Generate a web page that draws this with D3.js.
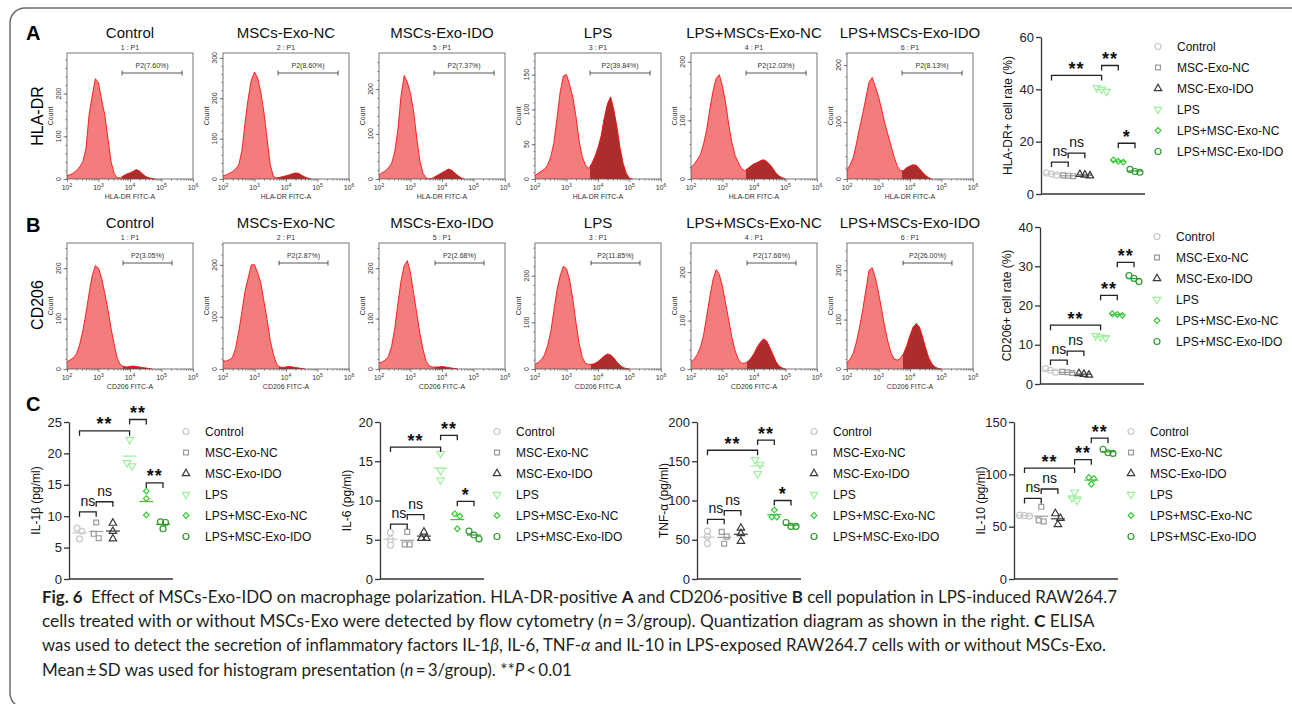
<!DOCTYPE html>
<html>
<head>
<meta charset="utf-8">
<script src="https://cdn.jsdelivr.net/npm/d3@7"></script>
<style>
  body { margin: 0; background: #fff; }
  svg { display: block; font-family: "Liberation Sans", Arial, sans-serif; }
</style>
</head>
<body>
<svg id="fig" width="1292" height="704"></svg>
<script>
// ---------- flow cytometry histograms ----------
const flowTitles = ['Control', 'MSCs-Exo-NC', 'MSCs-Exo-IDO', 'LPS', 'LPS+MSCs-Exo-NC', 'LPS+MSCs-Exo-IDO'];
const flowSampleIds = ['1 : P1', '2 : P1', '5 : P1', '3 : P1', '4 : P1', '6 : P1'];
// log10 of fluorescence for each histogram bin
const logBins = [2.0, 2.1, 2.2, 2.3, 2.4, 2.5, 2.6, 2.7, 2.8, 2.9, 3.0, 3.1, 3.2, 3.3, 3.4, 3.5, 3.6,
                 3.7, 3.8, 3.9, 4.0, 4.1, 4.2, 4.3, 4.4, 4.5, 4.6, 4.7, 4.8, 4.9, 5.0, 5.1, 5.2];

const hladrCounts = [
  [8, 10, 14, 20, 28, 40, 70, 150, 195, 235, 225, 185, 150, 95, 40, 12, 3, 3, 8, 12, 14, 18, 22, 19, 12, 6, 3, 1, 0, 0, 0, 0, 0],
  [8, 10, 14, 18, 25, 35, 70, 140, 200, 245, 265, 250, 215, 165, 100, 35, 6, 3, 4, 6, 8, 10, 13, 15, 14, 9, 5, 2, 0, 0, 0, 0, 0],
  [9, 14, 18, 25, 35, 60, 110, 185, 230, 215, 190, 150, 90, 40, 12, 2, 0, 2, 6, 10, 14, 18, 22, 20, 14, 8, 3, 0, 0, 0, 0, 0, 0],
  [5, 8, 11, 14, 20, 32, 52, 88, 125, 148, 150, 135, 118, 90, 55, 32, 20, 15, 22, 32, 45, 62, 88, 108, 118, 100, 75, 45, 22, 8, 1, 0, 0],
  [20, 25, 33, 42, 60, 85, 120, 150, 172, 178, 158, 130, 92, 62, 40, 28, 18, 14, 18, 22, 26, 28, 31, 33, 30, 25, 18, 10, 5, 2, 0, 0, 0],
  [15, 25, 38, 62, 90, 115, 142, 170, 178, 162, 145, 122, 98, 78, 58, 38, 22, 14, 15, 20, 23, 25, 24, 18, 12, 6, 2, 0, 0, 0, 0, 0, 0]
];
const hladrYMax = [295, 312, 280, 181, 215, 221];
const hladrYTicks = [[0, 100, 200], [0, 100, 200, 300], [0, 100, 200], [0, 50, 100, 150], [0, 100, 200], [0, 100, 200]];
const hladrGates = ['P2(7.60%)', 'P2(8.60%)', 'P2(7.37%)', 'P2(39.84%)', 'P2(12.03%)', 'P2(8.13%)'];
const hladrGateRange = [5600, 450000];

const cd206Counts = [
  [14, 18, 22, 30, 48, 75, 110, 150, 185, 205, 200, 180, 150, 118, 80, 48, 20, 8, 5, 4, 5, 6, 5, 4, 3, 2, 1, 0, 0, 0, 0, 0, 0],
  [16, 15, 18, 22, 40, 72, 110, 150, 175, 200, 200, 185, 165, 130, 95, 55, 28, 10, 4, 3, 4, 5, 4, 3, 2, 1, 0, 0, 0, 0, 0, 0, 0],
  [12, 14, 18, 25, 45, 80, 130, 175, 205, 215, 190, 150, 110, 70, 38, 15, 6, 4, 4, 4, 5, 4, 3, 2, 1, 0, 0, 0, 0, 0, 0, 0, 0],
  [10, 14, 20, 30, 50, 80, 125, 170, 200, 220, 215, 190, 150, 100, 55, 25, 12, 10, 10, 12, 16, 22, 28, 32, 30, 24, 15, 8, 3, 1, 0, 0, 0],
  [15, 20, 30, 45, 70, 110, 150, 185, 205, 195, 170, 135, 100, 65, 38, 20, 12, 12, 15, 22, 32, 45, 55, 62, 58, 45, 30, 15, 6, 2, 0, 0, 0],
  [12, 20, 32, 55, 85, 120, 160, 200, 205, 185, 155, 120, 85, 55, 32, 20, 18, 22, 32, 48, 68, 85, 92, 85, 65, 42, 22, 10, 4, 1, 0, 0, 0]
];
const cd206YMax = [250, 242, 250, 270, 260, 255];
const cd206YTicks = [[0, 100, 200], [0, 100, 200], [0, 100, 200], [0, 100, 200], [0, 100, 200], [0, 100, 200]];
const cd206Gates = ['P2(3.05%)', 'P2(2.87%)', 'P2(2.68%)', 'P2(11.85%)', 'P2(17.66%)', 'P2(26.00%)'];
const cd206GateRange = [6000, 215000];

// ---------- dot plots ----------
const dotGroups = ['Control', 'MSC-Exo-NC', 'MSC-Exo-IDO', 'LPS', 'LPS+MSC-Exo-NC', 'LPS+MSC-Exo-IDO'];

const hladrRate = [[7.2, 7.6, 8.0], [6.8, 7.0, 7.1], [7.0, 7.3, 7.5], [39.2, 40.0, 40.6], [12.2, 12.5, 13.0], [8.3, 8.6, 9.4]];
const cd206Rate = [[3.0, 3.5, 3.9], [2.8, 3.0, 3.1], [2.3, 2.5, 2.7], [11.8, 12.0, 12.3], [17.5, 17.7, 17.9], [26.1, 26.9, 27.6]];
const il1b = [[8.1, 7.6, 6.4], [9.0, 7.2, 6.5], [8.9, 7.6, 6.4], [22.2, 18.0, 18.5], [14.0, 12.8, 10.2], [9.1, 9.0, 8.0]];
const il6 = [[5.9, 5.0, 4.3], [6.0, 4.4, 4.4], [6.0, 5.2, 5.2], [16.0, 13.8, 12.6], [8.3, 8.0, 6.4], [6.1, 5.6, 5.1]];
const tnf = [[61, 54, 45], [60, 54, 45], [65, 58, 48], [152, 146, 134], [88, 79, 79], [72, 67, 67]];
const il10 = [[61, 60.5, 60], [69, 56, 55], [62.5, 58, 52], [83, 77.5, 75], [97, 96, 90.5], [124, 120.6, 120]];

// [from group, to group, height, label]
const hladrBrackets = [[0, 3, 45.3, '**'], [3, 4, 49.1, '**'], [4, 5, 19.4, '*'], [0, 1, 12.2, 'ns'], [1, 2, 15.6, 'ns']];
const cd206Brackets = [[0, 1, 6.1, 'ns'], [1, 2, 8.4, 'ns'], [0, 3, 15, '**'], [3, 4, 22.6, '**'], [4, 5, 31, '**']];
const il1bBrackets = [[0, 3, 23.6, '**'], [3, 4, 25.4, '**'], [4, 5, 15.3, '**'], [0, 1, 10.7, 'ns'], [1, 2, 12.3, 'ns']];
const il6Brackets = [[0, 3, 16.8, '**'], [3, 4, 18.3, '**'], [4, 5, 9.9, '*'], [0, 1, 7.0, 'ns'], [1, 2, 8.2, 'ns']];
const tnfBrackets = [[0, 3, 164, '**'], [3, 4, 177, '**'], [4, 5, 100, '*'], [0, 1, 76, 'ns'], [1, 2, 87, 'ns']];
const il10Brackets = [[0, 3, 106, '**'], [3, 4, 114, '**'], [4, 5, 134.5, '**'], [0, 1, 77, 'ns'], [1, 2, 86, 'ns']];

const hladrTicks = [0, 20, 40, 60];
const cd206Ticks = [0, 10, 20, 30, 40];
const il1bTicks = [0, 5, 10, 15, 20, 25];
const il6Ticks = [0, 5, 10, 15, 20];
const tnfTicks = [0, 50, 100, 150, 200];
const il10Ticks = [0, 50, 100, 150];

// ---------- caption ----------
const captionLines = [
  [['Fig. 6', 'b'], ['\u2002Effect of MSCs-Exo-IDO on macrophage polarization. HLA-DR-positive ', ''], ['A', 'b'],
   [' and CD206-positive ', ''], ['B', 'b'], [' cell population in LPS-induced RAW264.7', '']],
  [['cells treated with or without MSCs-Exo were detected by flow cytometry (', ''], ['n', 'i'],
   ['\u2009=\u20093/group). Quantization diagram as shown in the right. ', ''], ['C', 'b'], [' ELISA', '']],
  [['was used to detect the secretion of inflammatory factors IL-1', ''], ['\u03b2', 'i'], [', IL-6, TNF-', ''],
   ['\u03b1', 'i'], [' and IL-10 in LPS-exposed RAW264.7 cells with or without MSCs-Exo.', '']],
  [['Mean\u2009\u00b1\u2009SD was used for histogram presentation (', ''], ['n', 'i'], ['\u2009=\u20093/group). **', ''],
   ['P', 'i'], ['\u2009<\u20090.01', '']]
];
// target widths of the full lines; the last, short line keeps the same squeeze
const captionWidths = [1076, 1053, 1065, null];

// ---------- drawing ----------
const svg = d3.select('#fig');
const defs = svg.append('defs');
const lightFill = '#f37d7d';
const darkFill = '#ad2c2c';
const dotColors = ['#c8c8c8', '#9a9a9a', '#3a3a3a', '#9fef9f', '#36c936', '#2c9a2c'];

// outer frame
svg.append('path')
  .attr('d', 'M1300,8 H25 A15,15 0 0 0 10,23 V693 A15,15 0 0 0 25,708 H1300')
  .attr('fill', 'none').attr('stroke', '#6b6b6b').attr('stroke-width', 1.5);

// panel letters
[['A', 40], ['B', 232], ['C', 411]].forEach(([t, y]) => {
  svg.append('text').attr('x', 26).attr('y', y)
    .style('font-size', '20px').style('font-weight', 'bold').text(t);
});

// row labels
[['HLA-DR', 116], ['CD206', 305]].forEach(([t, y]) => {
  svg.append('text').attr('transform', `translate(43,${y}) rotate(-90)`)
    .attr('text-anchor', 'middle').style('font-size', '16px').style('font-weight', 'normal').text(t);
});

function drawFlow(i, top, counts, yMax, yTicks, gateLabel, gateRange, xLabel, id) {
  const x0 = 67 + i * 156, w = 126, h = 126;
  const g = svg.append('g');
  const x = d3.scaleLog().domain([1e2, 1e6]).range([x0, x0 + w]);
  const y = d3.scaleLinear().domain([0, yMax]).range([top + h, top]);

  let last = 0;
  counts.forEach((c, k) => { if (c > 0) last = k; });
  const pts = logBins.map((b, k) => ({ v: Math.pow(10, b), c: counts[k] }))
    .slice(0, Math.min(logBins.length, last + 2));

  const area = d3.area().x(d => x(d.v)).y0(y(0)).y1(d => y(d.c));
  const line = d3.line().x(d => x(d.v)).y(d => y(d.c));

  defs.append('clipPath').attr('id', 'gate-' + id)
    .append('rect').attr('x', x(gateRange[0])).attr('y', top)
    .attr('width', x0 + w - x(gateRange[0])).attr('height', h);

  g.append('path').attr('d', area(pts)).attr('fill', lightFill);
  g.append('path').attr('d', area(pts)).attr('fill', darkFill).attr('clip-path', `url(#gate-${id})`);
  g.append('path').attr('d', line(pts)).attr('fill', 'none').attr('stroke', '#ff1010').attr('stroke-width', 0.9);

  g.append('rect').attr('x', x0).attr('y', top).attr('width', w).attr('height', h)
    .attr('fill', 'none').attr('stroke', '#555').attr('stroke-width', 0.8);

  // x axis ticks
  const decades = [1e2, 1e3, 1e4, 1e5, 1e6];
  const minors = [];
  [1e2, 1e3, 1e4, 1e5].forEach(d => { for (let m = 2; m < 10; m++) minors.push(d * m); });
  const xa = g.append('g').attr('transform', `translate(0,${top + h})`);
  xa.append('g').call(d3.axisBottom(x).tickValues(decades).tickSize(3).tickFormat(''));
  xa.append('g').call(d3.axisBottom(x).tickValues(minors).tickSize(1.6).tickFormat(''));
  xa.selectAll('.domain').remove();
  xa.selectAll('line').attr('stroke', '#555').attr('stroke-width', 0.7);

  [2, 3, 4, 5, 6].forEach(e => {
    const t = g.append('text').attr('x', x(Math.pow(10, e))).attr('y', top + h + 11)
      .attr('text-anchor', 'middle').style('font-size', '7px').attr('fill', '#333');
    t.append('tspan').text('10');
    t.append('tspan').attr('dy', -3).style('font-size', '5px').text(e);
  });
  g.append('text').attr('x', x0 + w / 2).attr('y', top + h + 20)
    .attr('text-anchor', 'middle').style('font-size', '7px').attr('fill', '#333').text(xLabel);

  // y axis ticks
  const step = yTicks[1] - yTicks[0];
  const ya = g.append('g').attr('transform', `translate(${x0},0)`);
  ya.append('g').call(d3.axisLeft(y).tickValues(yTicks).tickSize(3.5).tickFormat(''));
  ya.append('g').call(d3.axisLeft(y).tickValues(d3.range(0, yMax, step / 5)).tickSize(1.6).tickFormat(''));
  ya.selectAll('.domain').remove();
  ya.selectAll('line').attr('stroke', '#555').attr('stroke-width', 0.7);
  yTicks.forEach(t => {
    g.append('text').attr('transform', `translate(${x0 - 6.5},${y(t)}) rotate(-90)`)
      .attr('text-anchor', 'middle').style('font-size', '7px').attr('fill', '#333').text(t);
  });
  g.append('text').attr('transform', `translate(${x0 - 14.5},${top + h / 2}) rotate(-90)`)
    .attr('text-anchor', 'middle').style('font-size', '7px').attr('fill', '#333').text('Count');

  // gate
  const gx1 = x(gateRange[0]), gx2 = x(gateRange[1]), gy = top + 20;
  g.append('path').attr('d', `M${gx1},${gy - 2.5}V${gy + 2.5}M${gx1},${gy}H${gx2}M${gx2},${gy - 2.5}V${gy + 2.5}`)
    .attr('stroke', '#444').attr('stroke-width', 0.9).attr('fill', 'none');
  g.append('text').attr('x', (gx1 + gx2) / 2).attr('y', top + 14.5)
    .attr('text-anchor', 'middle').style('font-size', '7px').attr('fill', '#333').text(gateLabel);

  // titles
  g.append('text').attr('x', x0 + w / 2).attr('y', top - 15)
    .attr('text-anchor', 'middle').style('font-size', '15px').style('font-weight', 'normal')
    .attr('fill', '#111').text(flowTitles[i]);
  g.append('text').attr('x', x0 + w / 2).attr('y', top - 3)
    .attr('text-anchor', 'middle').style('font-size', '7px').attr('fill', '#333').text(flowSampleIds[i]);
}

flowTitles.forEach((t, i) => {
  drawFlow(i, 53, hladrCounts[i], hladrYMax[i], hladrYTicks[i], hladrGates[i], hladrGateRange, 'HLA-DR FITC-A', 'a' + i);
  drawFlow(i, 243, cd206Counts[i], cd206YMax[i], cd206YTicks[i], cd206Gates[i], cd206GateRange, 'CD206 FITC-A', 'b' + i);
});

// symbols
function symbolPath(k) {
  const types = [d3.symbolCircle, d3.symbolSquare, d3.symbolTriangle, d3.symbolTriangle, d3.symbolSquare, d3.symbolCircle];
  const sizes = [28, 24, 24, 24, 16, 28];
  return d3.symbol().type(types[k]).size(sizes[k])();
}
const symbolRotate = [0, 0, 0, 180, 45, 0];

function drawMarker(g, k, cx, cy) {
  g.append('path').attr('d', symbolPath(k))
    .attr('transform', `translate(${cx},${cy}) rotate(${symbolRotate[k]})`)
    .attr('fill', 'none').attr('stroke', dotColors[k]).attr('stroke-width', 1.2);
}

function spreadOffsets(vals, y) {
  const idx = vals.map((v, i) => ({ i, py: y(v) })).sort((a, b) => a.py - b.py);
  const off = vals.map(() => 0);
  let cluster = [idx[0]];
  const flush = () => cluster.forEach((c, k) => { off[c.i] = (k - (cluster.length - 1) / 2) * 5; });
  for (let k = 1; k < idx.length; k++) {
    if (idx[k].py - cluster[cluster.length - 1].py < 5) cluster.push(idx[k]);
    else { flush(); cluster = [idx[k]]; }
  }
  flush();
  return off;
}

function drawDots(x0, top, bottom, data, ticks, brackets, yLabel) {
  const g = svg.append('g');
  const y = d3.scaleLinear().domain([0, ticks[ticks.length - 1]]).range([bottom, top]);
  const x = d3.scalePoint().domain(dotGroups).range([x0 + 10.5, x0 + 94]);

  const ya = g.append('g').attr('transform', `translate(${x0},0)`)
    .call(d3.axisLeft(y).tickValues(ticks).tickSize(5).tickSizeOuter(0).tickPadding(2));
  ya.select('.domain').attr('stroke', '#333').attr('stroke-width', 1.3);
  ya.selectAll('.tick line').attr('stroke', '#333').attr('stroke-width', 1.3);
  ya.selectAll('.tick text').style('font-size', '13px').style('font-family', '"Liberation Sans", Arial, sans-serif').attr('fill', '#222');
  g.append('line').attr('x1', x0).attr('x2', x0 + 104).attr('y1', bottom).attr('y2', bottom)
    .attr('stroke', '#333').attr('stroke-width', 1.3);

  g.append('text').attr('transform', `translate(${x0 - 29},${(top + bottom) / 2}) rotate(-90)`)
    .attr('text-anchor', 'middle').style('font-size', '12px').attr('fill', '#111').text(yLabel);

  data.forEach((vals, k) => {
    const cx = x(dotGroups[k]);
    const my = y(d3.mean(vals));
    g.append('line').attr('x1', cx - 7).attr('x2', cx + 7).attr('y1', my).attr('y2', my)
      .attr('stroke', dotColors[k]).attr('stroke-width', 1.2);
    const off = spreadOffsets(vals, y);
    vals.forEach((v, j) => drawMarker(g, k, cx + off[j], y(v)));
  });

  brackets.forEach(([a, b, v, label]) => {
    const x1 = x(dotGroups[a]), x2 = x(dotGroups[b]), by = y(v);
    g.append('path').attr('d', `M${x1},${by + 5}V${by}H${x2}V${by + 5}`)
      .attr('fill', 'none').attr('stroke', '#222').attr('stroke-width', 1.3);
    if (label === 'ns') {
      g.append('text').attr('x', (x1 + x2) / 2).attr('y', by - 6).attr('text-anchor', 'middle')
        .style('font-size', '14px').attr('fill', '#111').text(label);
    } else {
      g.append('text').attr('x', (x1 + x2) / 2).attr('y', by - 0.5).attr('text-anchor', 'middle')
        .style('font-size', '18px').style('font-weight', 'bold').style('letter-spacing', '1px')
        .attr('fill', '#111').text(label);
    }
  });

  dotGroups.forEach((name, k) => {
    const ly = top + 9.5 + k * 21;
    drawMarker(g, k, x0 + 117, ly);
    g.append('text').attr('x', x0 + 136).attr('y', ly).attr('dy', '0.36em')
      .style('font-size', '12px').attr('fill', '#111').text(name);
  });
}

drawDots(1041, 37, 194, hladrRate, hladrTicks, hladrBrackets, 'HLA-DR+ cell rate (%)');
drawDots(1040, 227, 384, cd206Rate, cd206Ticks, cd206Brackets, 'CD206+ cell rate (%)');
drawDots(69, 422, 579, il1b, il1bTicks, il1bBrackets, 'IL-1\u03b2 (pg/ml)');
drawDots(380, 422, 579, il6, il6Ticks, il6Brackets, 'IL-6 (pg/ml)');
drawDots(697, 422, 579, tnf, tnfTicks, tnfBrackets, 'TNF-\u03b1 (pg/ml)');
drawDots(1014, 422, 579, il10, il10Ticks, il10Brackets, 'IL-10 (pg/ml)');

// caption: each line is squeezed horizontally with a scale transform
const captionNodes = captionLines.map((segs, i) => {
  const t = svg.append('text').attr('x', 0).attr('y', 0)
    .style('font-family', 'Lato, "Open Sans", sans-serif').style('font-size', '17.5px').attr('fill', '#231f20');
  segs.forEach(([s, st]) => {
    const ts = t.append('tspan').text(s);
    if (st === 'b') ts.style('font-weight', 'bold');
    if (st === 'i') ts.style('font-style', 'italic');
  });
  return t;
});
const natural = captionNodes.map(t => t.node().getComputedTextLength());
const squeeze = d3.mean(captionWidths.slice(0, 3).map((w, i) => w / natural[i]));
captionNodes.forEach((t, i) => {
  const sx = captionWidths[i] != null ? captionWidths[i] / natural[i] : squeeze;
  t.attr('transform', `translate(42,${603 + i * 24.2}) scale(${sx},1)`);
});
</script>
</body>
</html>
